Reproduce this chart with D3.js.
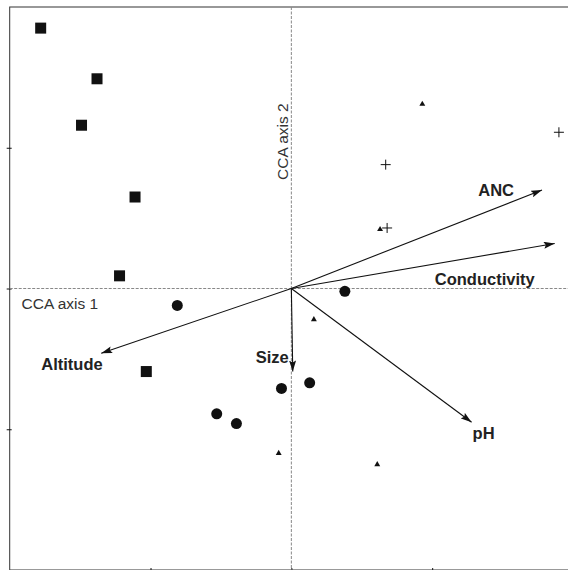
<!DOCTYPE html>
<html>
<head>
<meta charset="utf-8">
<script src="https://cdn.jsdelivr.net/npm/d3@7"></script>
<style>
  body { margin: 0; background: #fff; }
  svg { display: block; font-family: "Liberation Sans", Arial, sans-serif; }
</style>
</head>
<body>
<div id="chart"></div>
<script>
const width = 568;
const height = 570;

// site scores on CCA axes 1 and 2, by group
const squares = [[-1.78, 1.85], [-1.38, 1.49], [-1.49, 1.16], [-1.11, 0.65], [-1.22, 0.09], [-1.03, -0.59]];
const circles = [[-0.81, -0.12], [0.38, -0.02], [-0.07, -0.71], [0.13, -0.67], [-0.53, -0.89], [-0.39, -0.96]];
const triangles = [[0.93, 1.31], [0.63, 0.42], [0.16, -0.22], [-0.09, -1.17], [0.61, -1.25]];
const crosses = [[0.67, 0.88], [0.68, 0.43], [1.90, 1.11]];

// environmental variables (biplot arrows)
const varNames = ['ANC', 'Conductivity', 'pH', 'Size', 'Altitude'];
const varX = [1.78, 1.87, 1.28, 0.01, -1.35];
const varY = [0.70, 0.32, -0.95, -0.59, -0.46];

const xTicks = [-1, 0, 1];
const yTicks = [-1, 0, 1];

// label placement relative to arrow tips (pixels)
const labelLayout = {
    'ANC': { dx: -28, dy: 6, anchor: 'end' },
    'Conductivity': { dx: -20, dy: 42, anchor: 'end' },
    'pH': { dx: 1, dy: 17, anchor: 'start' },
    'Size': { dx: -4, dy: -9, anchor: 'end' },
    'Altitude': { dx: -60, dy: 17, anchor: 'start' }
}

const svg = d3.select('#chart')
    .append('svg')
    .attr('width', width)
    .attr('height', height)

const x = d3.scaleLinear().domain([-2, 2]).range([9.7, 573])
const y = d3.scaleLinear().domain([-2, 2]).range([570, 7])

svg.append('defs').append('marker')
    .attr('id', 'head')
    .attr('viewBox', '0 0 11 7')
    .attr('refX', 11)
    .attr('refY', 3.5)
    .attr('markerWidth', 11)
    .attr('markerHeight', 7)
    .attr('markerUnits', 'userSpaceOnUse')
    .attr('orient', 'auto')
    .append('path')
    .attr('d', 'M0,0L11,3.5L0,7L2,3.5Z')
    .attr('fill', '#111')

// frame
svg.append('rect')
    .attr('x', x(-2))
    .attr('y', y(2))
    .attr('width', x(2) - x(-2))
    .attr('height', y(-2) - y(2))
    .attr('fill', 'none')
    .attr('stroke', '#333')

// axes ticks
const gx = svg.append('g')
    .attr('transform', `translate(0,${y(-2)})`)
    .call(d3.axisBottom(x).tickValues(xTicks).tickFormat('').tickSize(3).tickSizeOuter(0))
gx.select('.domain').remove()
gx.selectAll('line').attr('y1', -2).attr('stroke', '#111')

const gy = svg.append('g')
    .attr('transform', `translate(${x(-2)},0)`)
    .call(d3.axisLeft(y).tickValues(yTicks).tickFormat('').tickSize(3).tickSizeOuter(0))
gy.select('.domain').remove()
gy.selectAll('line').attr('x1', 2).attr('stroke', '#111')

// dashed zero lines
svg.append('line')
    .attr('x1', x(-2)).attr('x2', x(2))
    .attr('y1', y(0)).attr('y2', y(0))
    .attr('stroke', '#888')
    .attr('stroke-dasharray', '3,1.5')
svg.append('line')
    .attr('x1', x(0)).attr('x2', x(0))
    .attr('y1', y(2)).attr('y2', y(-2))
    .attr('stroke', '#888')
    .attr('stroke-dasharray', '3,1.5')

svg.append('text')
    .attr('x', 21.5)
    .attr('y', 308.5)
    .attr('font-size', 15.5)
    .attr('fill', '#333')
    .text('CCA axis 1')

svg.append('text')
    .attr('transform', `translate(288.3,180) rotate(-90)`)
    .attr('font-size', 15.5)
    .attr('fill', '#333')
    .text('CCA axis 2')

// points
svg.selectAll('.sq')
    .data(squares)
    .enter()
    .append('rect')
    .attr('x', d => x(d[0]) - 5.5)
    .attr('y', d => y(d[1]) - 5.5)
    .attr('width', 11)
    .attr('height', 11)
    .attr('fill', '#111')

svg.selectAll('.ci')
    .data(circles)
    .enter()
    .append('circle')
    .attr('cx', d => x(d[0]))
    .attr('cy', d => y(d[1]))
    .attr('r', 5.5)
    .attr('fill', '#111')

svg.selectAll('.tri')
    .data(triangles)
    .enter()
    .append('path')
    .attr('d', d3.symbol().type(d3.symbolTriangle).size(15))
    .attr('transform', d => `translate(${x(d[0])},${y(d[1])})`)
    .attr('fill', '#111')

svg.selectAll('.cr')
    .data(crosses)
    .enter()
    .append('path')
    .attr('d', d => {
        let cx = x(d[0]), cy = y(d[1])
        return `M${cx - 5},${cy}H${cx + 5}M${cx},${cy - 5}V${cy + 5}`
    })
    .attr('stroke', '#111')
    .attr('stroke-width', 1)

// arrows
const vars = varNames.map((n, i) => ({ name: n, vx: varX[i], vy: varY[i] }))

svg.selectAll('.arrow')
    .data(vars)
    .enter()
    .append('line')
    .attr('x1', x(0))
    .attr('y1', y(0))
    .attr('x2', d => x(d.vx))
    .attr('y2', d => y(d.vy))
    .attr('stroke', '#111')
    .attr('stroke-width', 1.1)
    .attr('marker-end', 'url(#head)')

svg.selectAll('.lab')
    .data(vars)
    .enter()
    .append('text')
    .attr('x', d => x(d.vx) + labelLayout[d.name].dx)
    .attr('y', d => y(d.vy) + labelLayout[d.name].dy)
    .attr('text-anchor', d => labelLayout[d.name].anchor)
    .attr('font-size', 16.5)
    .attr('font-weight', 'bold')
    .attr('fill', '#222')
    .text(d => d.name)
</script>
</body>
</html>
